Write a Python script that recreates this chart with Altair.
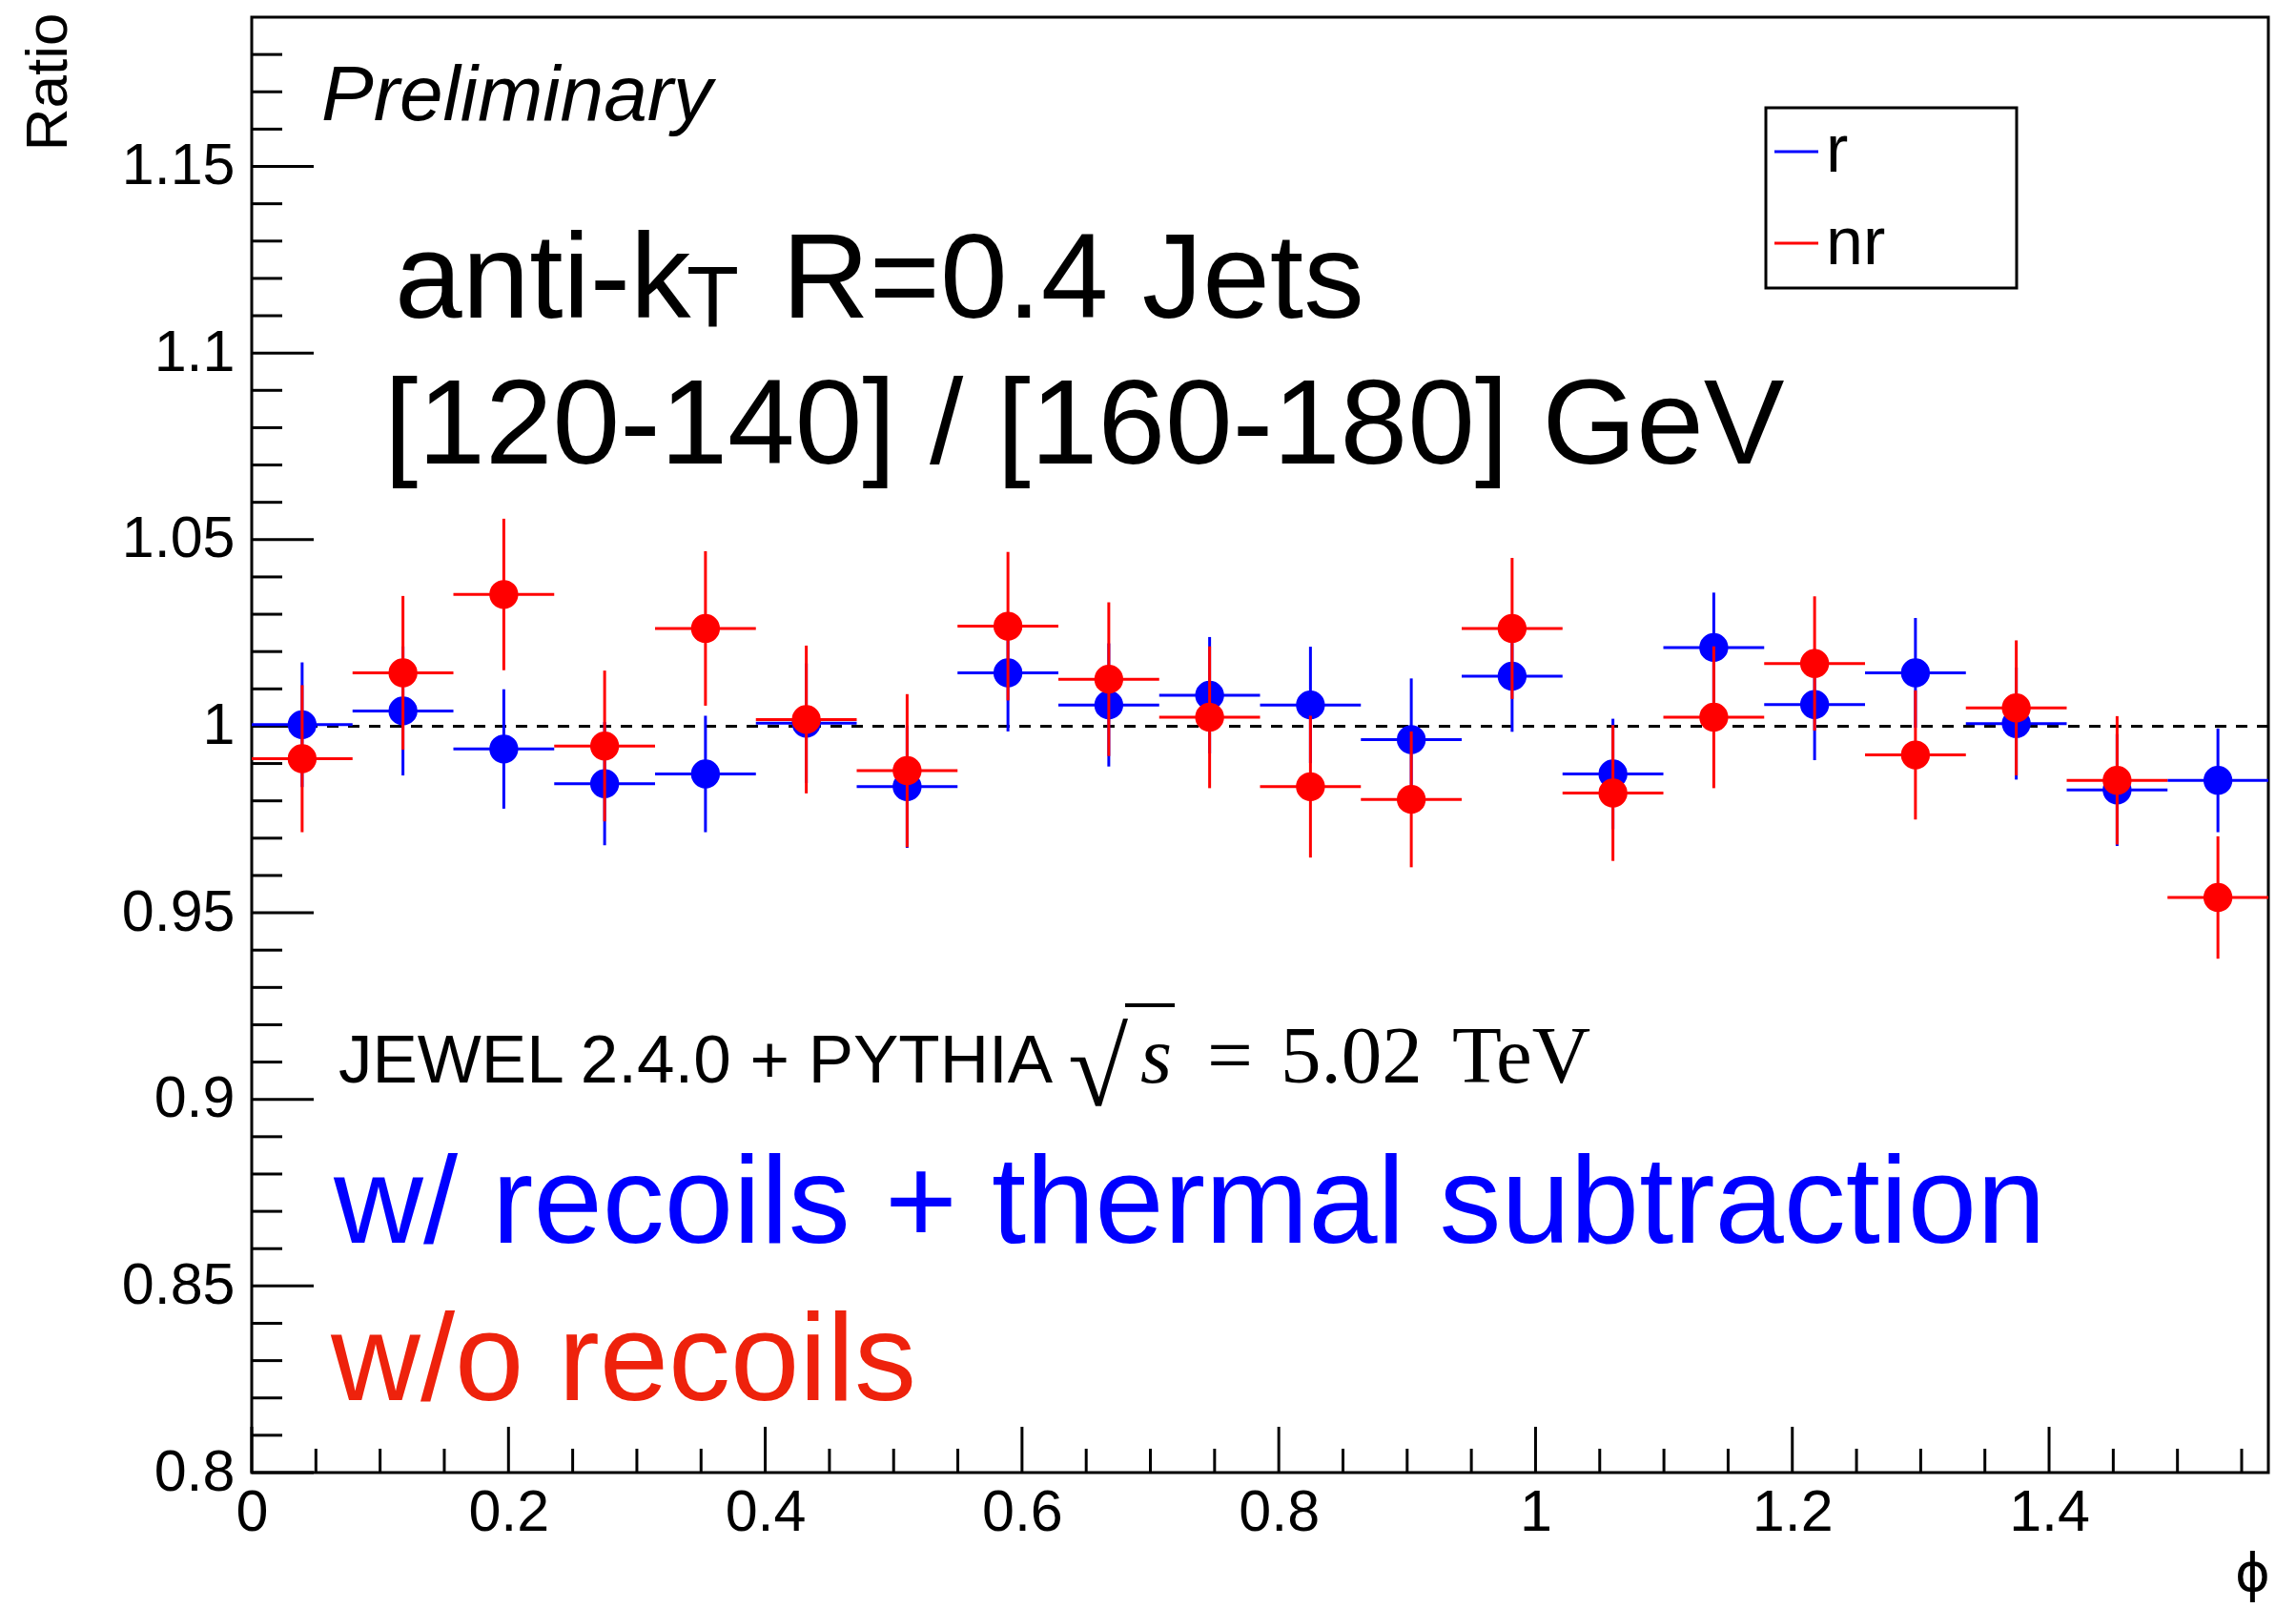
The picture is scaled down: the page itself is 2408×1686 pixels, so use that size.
import math

import altair as alt
import pandas as pd

# ---------------------------------------------------------------- data
N_BINS = 20
BIN_W = (math.pi / 2) / N_BINS
phi_lo = [i * BIN_W for i in range(N_BINS)]
phi_hi = [(i + 1) * BIN_W for i in range(N_BINS)]
phi_mid = [(i + 0.5) * BIN_W for i in range(N_BINS)]

# with recoils + thermal subtraction
r_ratio = [1.0004, 1.0041, 0.9939, 0.9846, 0.9872, 1.0008, 0.9838, 1.0143, 1.0057, 1.0083,
           1.0057, 0.9964, 1.0134, 0.9872, 1.0211, 1.0058, 1.0143, 1.0007, 0.9829, 0.9855]
r_err = [0.0167, 0.0173, 0.0160, 0.0165, 0.0156, 0.0160, 0.0164, 0.0157, 0.0165, 0.0156,
         0.0156, 0.0164, 0.0149, 0.0148, 0.0147, 0.0149, 0.0147, 0.0150, 0.0150, 0.0139]

# without recoils
nr_ratio = [0.9913, 1.0143, 1.0353, 0.9947, 1.0262, 1.0018, 0.9881, 1.0268, 1.0126, 1.0024,
            0.9838, 0.9804, 1.0262, 0.9821, 1.0024, 1.0168, 0.9923, 1.0049, 0.9855, 0.9541]
nr_err = [0.0197, 0.0206, 0.0203, 0.0202, 0.0207, 0.0198, 0.0205, 0.0199, 0.0206, 0.0190,
          0.0190, 0.0182, 0.0189, 0.0182, 0.0190, 0.0180, 0.0173, 0.0181, 0.0172, 0.0164]

y_major = [0.8, 0.85, 0.9, 0.95, 1.0, 1.05, 1.1, 1.15]
x_major = [0.0, 0.2, 0.4, 0.6, 0.8, 1.0, 1.2, 1.4]
y_minor = [round(0.8 + 0.01 * k, 2) for k in range(1, 39) if k % 5]
x_minor = [round(0.05 * k, 2) for k in range(1, 32) if k % 4]

BLUE = "#0000ff"
RED = "#ff0000"
TEXT_RED = "#ee220c"

# ---------------------------------------------------------------- layout
W, H = 2115, 1526
SANS = "Liberation Sans"
SERIF = "Liberation Serif"

x_scale = alt.Scale(domain=[0, math.pi / 2], nice=False, zero=False)
y_scale = alt.Scale(domain=[0.8, 1.19], nice=False, zero=False)

x_axis = alt.Axis(values=x_major, format="~g", labelPadding=12, labelFlush=False,
                  labelOverlap=False, title="ϕ", titleX=2098, titleY=106,
                  titleAlign="center", titleBaseline="middle", titleAngle=0,
                  titleFontSize=56, titleFontWeight="normal", titleFont="DejaVu Sans")
y_axis = alt.Axis(values=y_major, format="~g", labelPadding=18, labelFlush=False,
                  labelOverlap=False, title="Ratio", titleX=-195, titleY=-5,
                  titleAngle=270, titleAlign="right", titleBaseline="alphabetic",
                  titleFontSize=62, titleFontWeight="normal", titleFont=SANS)


def X(field):
    return alt.X(field, type="quantitative", scale=x_scale, axis=x_axis)


def Y(field):
    return alt.Y(field, type="quantitative", scale=y_scale, axis=y_axis)


def series_table(ratio, err):
    return pd.DataFrame({
        "lo": phi_lo, "hi": phi_hi, "mid": phi_mid,
        "ratio": ratio,
        "down": [v - e for v, e in zip(ratio, err)],
        "up": [v + e for v, e in zip(ratio, err)],
    })


def series_layers(ratio, err, color):
    df = series_table(ratio, err)
    base = alt.Chart(df)
    hbar = base.mark_rule(color=color, strokeWidth=3, strokeCap="butt").encode(
        x=X("lo"), x2="hi", y=Y("ratio"))
    vbar = base.mark_rule(color=color, strokeWidth=3, strokeCap="butt").encode(
        x=X("mid"), y=Y("down"), y2="up")
    dots = base.mark_point(filled=True, shape="circle", size=920, color=color,
                           opacity=1, strokeWidth=0).encode(x=X("mid"), y=Y("ratio"))
    return [hbar, vbar, dots]


def ticks(values, along, length):
    df = pd.DataFrame({"v": values})
    rule = alt.Chart(df).mark_rule(color="black", strokeWidth=3, strokeCap="butt")
    if along == "y":
        return rule.encode(y=Y("v"), x=alt.value(0), x2=alt.value(length))
    return rule.encode(x=X("v"), y=alt.value(H), y2=alt.value(H - length))


one = pd.DataFrame({"k": [0]})


def label(text, x, y, size, color="black", font=SANS, style="normal",
          align="left", baseline="alphabetic"):
    return alt.Chart(one).mark_text(
        text=text, fontSize=size, font=font, fontStyle=style, color=color,
        align=align, baseline=baseline,
    ).encode(x=alt.value(x), y=alt.value(y))


def segment(x1, x2, y1, y2, color="black", width=3, dash=None):
    kw = dict(color=color, strokeWidth=width, strokeCap="butt")
    if dash:
        kw["strokeDash"] = dash
    return alt.Chart(one).mark_rule(**kw).encode(
        x=alt.value(x1), x2=alt.value(x2), y=alt.value(y1), y2=alt.value(y2))


# unity reference line
unity = alt.Chart(pd.DataFrame({"v": [1.0]})).mark_rule(
    color="black", strokeWidth=3, strokeDash=[12, 10]).encode(y=Y("v"))

layers = [
    ticks(y_major, "y", 65),
    ticks(y_minor, "y", 32),
    ticks(x_major, "x", 48),
    ticks(x_minor, "x", 25),
    unity,
]
layers += series_layers(r_ratio, r_err, BLUE)
layers += series_layers(nr_ratio, nr_err, RED)

layers += [
    label("Preliminary", 73, 108, 82, style="italic"),
    label("anti-k", 150, 315, 127),
    label("T", 456, 325, 90),
    label("R=0.4 Jets", 556, 315, 127),
    label("[120-140] / [160-180] GeV", 139, 468, 127),
    label("JEWEL 2.4.0 + PYTHIA", 91, 1117, 71),
    label("√", 856, 1141, 115, font=SERIF),
    segment(916, 968, 1036, 1036, width=4),
    label("s", 932, 1117, 85, font=SERIF, style="italic"),
    label("=", 1026, 1117, 85, font=SERIF, align="center"),
    label("5.02", 1079, 1117, 85, font=SERIF),
    label("TeV", 1259, 1117, 85, font=SERIF),
    label("w/ recoils + thermal subtraction", 86, 1285, 130, color=BLUE),
    label("w/o recoils", 83, 1450, 130, color=TEXT_RED),
]

# legend box
legend_box = alt.Chart(one).mark_rect(fill="white", stroke="black", strokeWidth=3).encode(
    x=alt.value(1588), x2=alt.value(1851), y=alt.value(95), y2=alt.value(284))
layers += [
    legend_box,
    segment(1597, 1643, 141, 141, color=BLUE),
    segment(1597, 1643, 237, 237, color=RED),
    label("r", 1651, 162, 70),
    label("nr", 1651, 259, 70),
]

chart = alt.layer(*layers).properties(
    width=W,
    height=H,
    padding={"left": 264, "top": 18, "right": 29, "bottom": 142},
    autosize=alt.AutoSizeParams(type="none"),
    background="white",
).configure_view(
    stroke="black", strokeWidth=3,
).configure_axis(
    ticks=False, domain=False, grid=False,
    labelFont=SANS, labelFontSize=61, labelColor="black", titleColor="black",
)

chart.save("out.html", embed_options={"renderer": "svg", "actions": False})
